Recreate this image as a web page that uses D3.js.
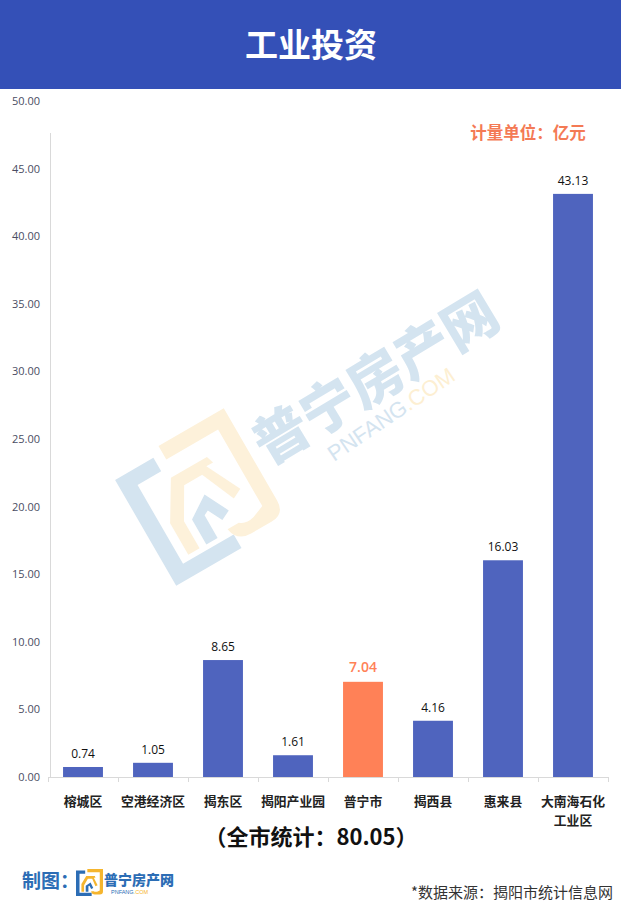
<!DOCTYPE html>
<html><head><meta charset="utf-8">
<script src="https://cdn.jsdelivr.net/npm/d3@7"></script>
<style>body{margin:0;background:#fff}svg{display:block}</style>
</head><body>
<svg id="c" width="621" height="923"></svg>
<script>
const categories = ["榕城区","空港经济区","揭东区","揭阳产业园","普宁市","揭西县","惠来县","大南海石化工业区"];
const values = [0.74,1.05,8.65,1.61,7.04,4.16,16.03,43.13];
const highlight = "普宁市";
const yTicks = [0,5,10,15,20,25,30,35,40,45,50];
const titleText = "工业投资";
const unitText = "计量单位：亿元";
const totalText = "（全市统计：80.05）";
const sourceText = "*数据来源：揭阳市统计信息网";
const makerText = "制图：";
const brandText = "普宁房产网";

const CJK = "'Noto Sans CJK SC','Noto Sans',sans-serif";
const NUM = "'Open Sans','Noto Sans',sans-serif";
const BLUE = "#4F64BE", ORANGE = "#FF8157";

const svg = d3.select("#c");

// header
svg.append("rect").attr("x",0).attr("y",0).attr("width",621).attr("height",89).attr("fill","#3450B7");
svg.append("text").attr("x",311).attr("y",57).attr("text-anchor","middle")
  .attr("font-family",CJK).attr("font-weight",700).attr("font-size",33).attr("fill","#fff").text(titleText);

// logo shape function (unit 100 box)
function logo(g){
  g.append("path").attr("class","lb").attr("d","M0,6 L34,6 L34,18 L13,18 L13,88 L58,88 L58,100 L0,100 Z");
  g.append("path").attr("class","ly").attr("d","M42,0 L100,0 L100,82 Q100,94 88,94 L70,94 Q58,94 56,82 L66,82 Q70,86 78,84 L88,80 L88,12 L42,12 Z");
  g.append("path").attr("class","ly").attr("d","M20,56 L38,26 L70,26 L72,32 L66,32 L80,60 L72,64 L60,36 L44,36 L30,60 L30,84 L20,84 Z");
  g.append("path").attr("class","lb").attr("d","M36,62 L54,50 L64,70 L56,74 L50,62 L46,64 L46,84 L36,84 Z");
}

// watermark
const wm = svg.append("g");
const wl = wm.append("g").attr("transform","translate(200,497) rotate(-30) scale(1.3) translate(-50,-50)");
logo(wl);
wl.selectAll(".lb").attr("fill","#D4E4F0");
wl.selectAll(".ly").attr("fill","#FDF1DA");
wm.append("text").attr("transform","translate(268,466) rotate(-31)")
  .attr("font-family",CJK).attr("font-weight",900).attr("font-size",55).attr("fill","#D4E4F0").text(brandText);
const pt = wm.append("text").attr("transform","translate(334,462) rotate(-34)")
  .attr("font-family","'Liberation Sans',Arial,sans-serif").attr("font-size",22);
pt.append("tspan").attr("fill","#D4E4F0").text("PNFANG");
pt.append("tspan").attr("fill","#FDEFD2").text(".COM");

// scales
const x = d3.scaleBand().domain(categories).range([48,608]).paddingInner(0.43).paddingOuter(0.215);
const y = d3.scaleLinear().domain([0,50]).range([777,101]);

// y axis labels
const ya = svg.append("g").attr("transform","translate(40,0)")
  .call(d3.axisLeft(y).tickValues(yTicks).tickSize(0).tickPadding(0).tickFormat(d3.format(".2f")));
ya.select(".domain").remove();
ya.selectAll("text").attr("font-family",NUM).attr("font-size",11).attr("fill","#4a4d63");

// axis lines
svg.append("line").attr("x1",50.5).attr("x2",50.5).attr("y1",133).attr("y2",777).attr("stroke","#d9d9d9");
svg.append("line").attr("x1",48).attr("x2",608).attr("y1",777.5).attr("y2",777.5).attr("stroke","#d9d9d9");
const bounds = categories.map(c => x(c) - x.step()*x.paddingInner()/2).concat([608]);
svg.selectAll(".xt").data(bounds).enter().append("line")
  .attr("x1",d=>Math.round(d)+0.5).attr("x2",d=>Math.round(d)+0.5).attr("y1",777).attr("y2",782).attr("stroke","#d9d9d9");

// bars
svg.selectAll(".bar").data(categories).enter().append("rect")
  .attr("x",d=>x(d)).attr("width",x.bandwidth())
  .attr("y",(d,i)=>y(values[i])).attr("height",(d,i)=>y(0)-y(values[i]))
  .attr("fill",d=>d===highlight?ORANGE:BLUE);

// value labels
svg.selectAll(".vl").data(categories).enter().append("text")
  .attr("x",d=>x(d)+x.bandwidth()/2).attr("y",(d,i)=>y(values[i]) - (d===highlight?10:9))
  .attr("text-anchor","middle").attr("font-family",NUM)
  .attr("font-size",d=>d===highlight?14:12)
  .attr("font-weight",d=>d===highlight?600:400)
  .attr("fill",d=>d===highlight?ORANGE:"#111")
  .text((d,i)=>values[i].toFixed(2));

// category labels (long names wrap into two text lines)
const labelLines = [];
categories.forEach(d=>{
  const lines = d.length>5 ? [d.slice(0,5), d.slice(5)] : [d];
  lines.forEach((s,k)=>labelLines.push({c:d,s:s,k:k}));
});
svg.selectAll(".cl").data(labelLines).enter().append("text")
  .attr("x",d=>x(d.c)+x.bandwidth()/2).attr("y",d=>806+d.k*18.5)
  .attr("text-anchor","middle").attr("font-family",CJK).attr("font-weight",700)
  .attr("font-size",12.8).attr("fill","#222").text(d=>d.s);

// unit
svg.append("text").attr("x",528).attr("y",139).attr("text-anchor","middle")
  .attr("font-family",CJK).attr("font-weight",700).attr("font-size",16.5).attr("fill","#F47A55").text(unitText);

// total
svg.append("text").attr("x",311).attr("y",845).attr("text-anchor","middle")
  .attr("font-family",CJK).attr("font-weight",600).attr("font-size",22).attr("fill","#111").text(totalText);

// footer
svg.append("text").attr("x",22).attr("y",888).attr("font-family",CJK).attr("font-weight",700)
  .attr("font-size",19).attr("fill","#2C6DB5").text(makerText);
const fl = svg.append("g").attr("transform","translate(76,869) scale(0.27)");
logo(fl);
fl.selectAll(".lb").attr("fill","#2C6DB5");
fl.selectAll(".ly").attr("fill","#F5B52E");
svg.append("text").attr("x",104).attr("y",885).attr("font-family",CJK).attr("font-weight",900)
  .attr("font-size",14).attr("fill","#2C6DB5").text(brandText);
const ft = svg.append("text").attr("x",111).attr("y",894).attr("font-family","'Liberation Sans',Arial,sans-serif").attr("font-size",5.5);
ft.append("tspan").attr("fill","#2C6DB5").text("PNFANG");
ft.append("tspan").attr("fill","#F5B52E").text(".COM");

svg.append("text").attr("x",613).attr("y",898).attr("text-anchor","end").attr("font-family",CJK)
  .attr("font-size",15).attr("fill","#333").text(sourceText);
</script>
</body></html>
